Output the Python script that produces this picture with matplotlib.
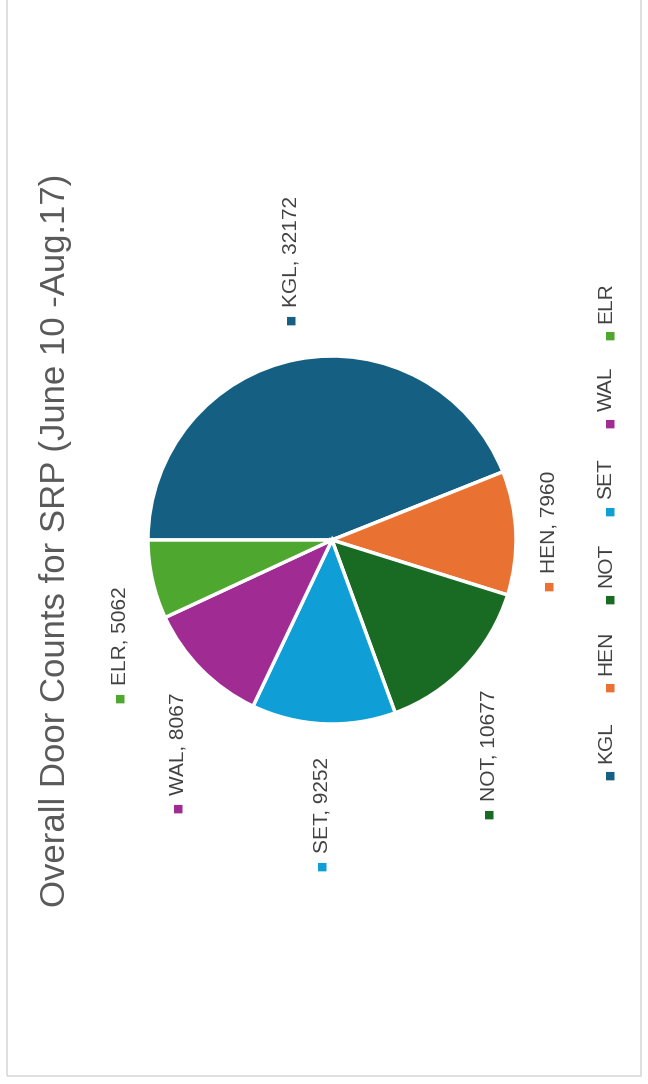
import numpy as np
import matplotlib
matplotlib.use("Agg")
import matplotlib.pyplot as plt
from matplotlib.patches import Rectangle

plt.rcParams['font.family'] = ['Liberation Sans', 'DejaVu Sans']

# data
sites = ['KGL', 'HEN', 'NOT', 'SET', 'WAL', 'ELR']
counts = [32172, 7960, 10677, 9252, 8067, 5062]
colors = ['#156082', '#E97132', '#196B24', '#0F9ED5', '#A02B93', '#4EA72E']
title = 'Overall Door Counts for SRP (June 10 -Aug.17)'

W, H = 648, 1084
fig = plt.figure(figsize=(W / 100, H / 100), dpi=100)
ax = fig.add_axes([0, 0, 1, 1])

# chart is drawn turned a quarter turn, so all text runs bottom to top
cx, cy, R = 332, 544, 184
wedges, _ = ax.pie(counts, colors=colors, startangle=180, counterclock=False,
                   center=(cx, cy), radius=R,
                   wedgeprops=dict(edgecolor='white', linewidth=2.5))
ax.set_xlim(0, W)
ax.set_ylim(0, H)
ax.set_aspect('equal')
ax.axis('off')

label_col = '#404040'
fs = 15
k = 1.18
for w, name, val, col in zip(wedges, sites, counts, colors):
    th = np.deg2rad((w.theta1 + w.theta2) / 2)
    px, py = cx + k * R * np.cos(th), cy + k * R * np.sin(th)
    s = np.sin(th)
    if s > 0.1:
        ha, off = 'left', 14
    elif s < -0.1:
        ha, off = 'right', 0
    else:
        ha, off = 'center', 7
    t = ax.annotate(f'{name}, {val}', xy=(px, py), xytext=(0, off),
                    textcoords='offset points', rotation=90,
                    rotation_mode='anchor', ha=ha, va='center',
                    fontsize=fs, color=label_col)
    ax.annotate('\u25a0', xy=(0.5, 0), xycoords=t, xytext=(0, -6),
                textcoords='offset points', ha='center', va='top',
                fontsize=8, color=col, family='DejaVu Sans')

# legend along the right edge, KGL at the bottom
leg_x, leg_mid, step = 610, 528, 88
n = len(sites)
for i, (name, col) in enumerate(zip(sites, colors)):
    y = leg_mid - (n - 1) / 2 * step + i * step
    ax.text(leg_x, y, '\u25a0', ha='center', va='center', fontsize=8,
            color=col, family='DejaVu Sans')
    ax.text(leg_x - 4, y + 13, name, rotation=90, rotation_mode='anchor',
            ha='left', va='center', fontsize=fs, color=label_col)

ax.text(56, cy, title, rotation=90, rotation_mode='anchor', ha='center',
        va='center', fontsize=25, color='#595959')

ax.add_patch(Rectangle((7, 8), 634, H, fill=False, edgecolor='#D9D9D9',
                       linewidth=1.2, clip_on=False))

fig.savefig('out.png', dpi=100)
